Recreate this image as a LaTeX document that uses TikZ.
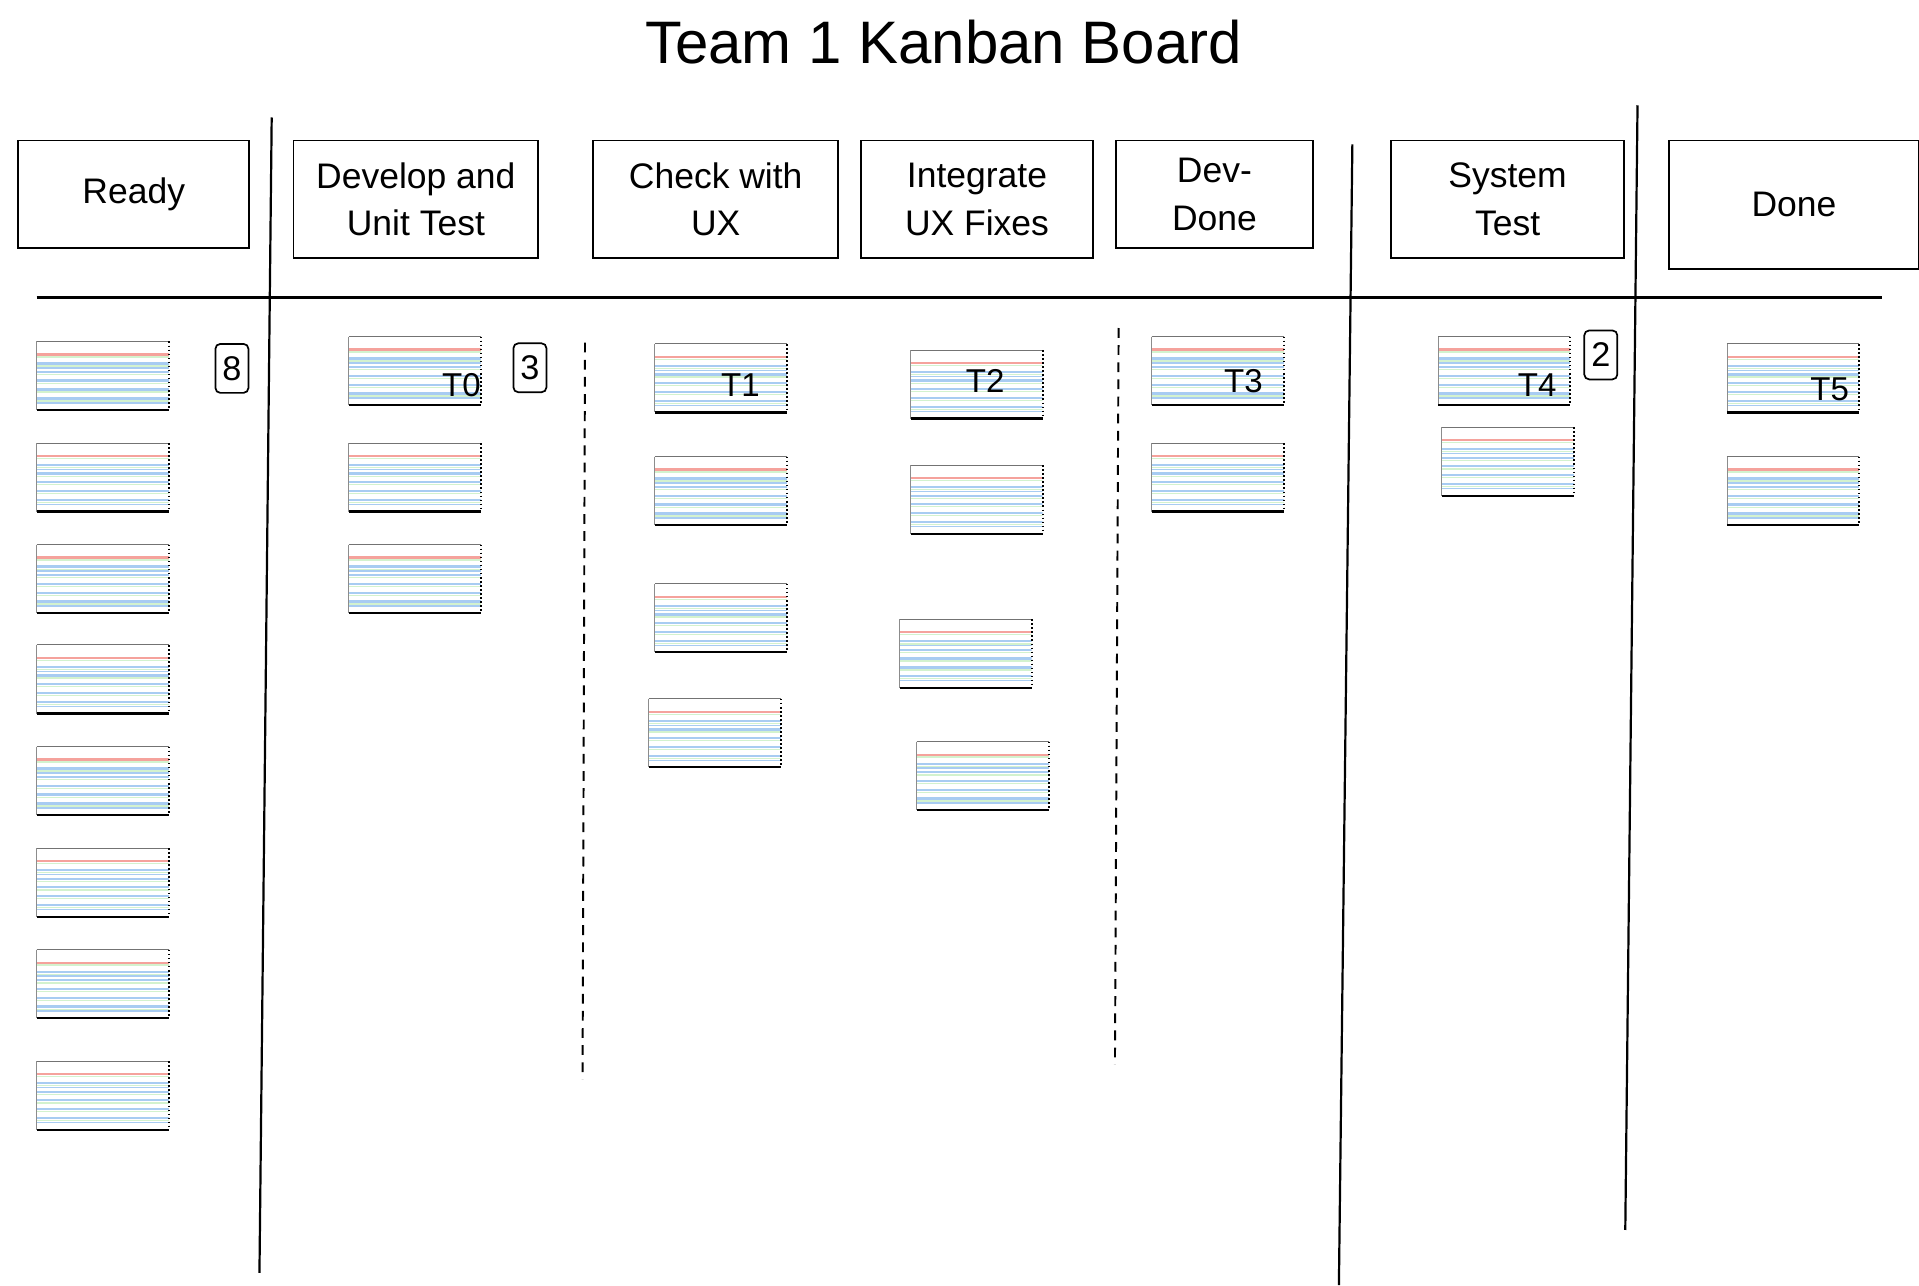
\documentclass[tikz,border=0pt]{standalone}
\usepackage{fontspec}
\setmainfont{Liberation Sans}
\definecolor{cardred}{HTML}{F5A29C}
\definecolor{cardblue}{HTML}{A8CCF2}
\definecolor{cardgreen}{HTML}{D3F2CE}
\tikzset{
  boardline/.style={line width=1.8pt, black},
  limitline/.style={line width=1.6pt, black, dash pattern=on 8pt off 6pt},
  hdr/.style={draw, line width=1.6pt, align=center, anchor=north west, inner sep=0pt,
    font=\fontsize{29}{39}\selectfont},
  wip/.style={draw, rounded corners=4pt, line width=1.4pt, minimum width=27pt,
    minimum height=40pt, inner sep=0pt, font=\fontsize{28}{28}\selectfont},
  cardlabel/.style={inner sep=0pt, font=\fontsize{27}{27}\selectfont},
  card/.style={rectangle, anchor=north west, minimum width=108pt, minimum height=56pt,
    inner sep=0pt, outer sep=0pt, fill=white,
    path picture={
      \coordinate (pp) at (path picture bounding box.north west);
      \draw[cardred, line width=1.8pt] ([yshift=-10.6pt]pp) -- ++(108pt,0);
      \draw[cardgreen, line width=1.1pt] ([yshift=-12.6pt]pp) -- ++(108pt,0);
      \foreach \b in {18,25,32,39.3,46.5}{
        \draw[cardblue, line width=1.9pt] ([yshift=-\b pt]pp) -- ++(108pt,0);
        \draw[cardgreen, line width=1.1pt] ([yshift=-\b pt-2.1pt]pp) -- ++(108pt,0);
      }
      \draw[cardblue, line width=1.1pt] ([yshift=-21.6pt]pp) -- ++(108pt,0);
      \draw[cardblue, line width=1.1pt] ([yshift=-50.2pt]pp) -- ++(108pt,0);
    }},
  cardtop/.style={black!55, line width=0.8pt},
  cardleft/.style={black!45, line width=0.6pt},
  cardbottom/.style={black, line width=1.8pt},
  cardright/.style={black, line width=1.3pt, dotted},
}
\newcommand{\kcard}[3]{%
  \node[card] (#1) at (#2,#3) {};
  \draw[cardtop] (#1.north west) -- (#1.north east);
  \draw[cardleft] (#1.north west) -- (#1.south west);
  \draw[cardbottom] (#1.south west) -- (#1.south east);
  \draw[cardright] (#1.north east) -- (#1.south east);
}
\begin{document}
\begin{tikzpicture}[x=1pt,y=-1pt]
\useasboundingbox[fill=white] (0,0) rectangle (1568,1050);

% title
\node[anchor=base, inner sep=0pt, font=\fontsize{49}{49}\selectfont] (title) at (771,52) {Team 1 Kanban Board};

% headers
\node[hdr, minimum width=189pt, minimum height=88pt] (hReady) at (14,114) {\raisebox{-2pt}{Ready}};
\node[hdr, minimum width=200pt, minimum height=96pt] (hDev) at (239,114) {Develop and\\Unit Test};
\node[hdr, minimum width=200pt, minimum height=96pt] (hCheck) at (484,114) {Check with\\UX};
\node[hdr, minimum width=189pt, minimum height=96pt] (hInt) at (703,114) {Integrate\\UX Fixes};
\node[hdr, minimum width=161pt, minimum height=88pt] (hDD) at (911,114) {Dev-\\Done};
\node[hdr, minimum width=190pt, minimum height=96pt] (hSys) at (1136,114) {System\\Test};
\node[hdr, minimum width=204pt, minimum height=105pt] (hDone) at (1363,114) {Done};

% board lines
\coordinate (hl1) at (30,243);
\coordinate (hl2) at (1538,243);
\draw[boardline] (hl1) -- (hl2);
\coordinate (v1a) at (222,96);   \coordinate (v1b) at (212,1040);
\coordinate (v2a) at (1105,118); \coordinate (v2b) at (1094,1050);
\coordinate (v3a) at (1338,86);  \coordinate (v3b) at (1328,1005);
\draw[boardline] (v1a) -- (v1b);
\draw[boardline] (v2a) -- (v2b);
\draw[boardline] (v3a) -- (v3b);
\coordinate (d1a) at (478,280); \coordinate (d1b) at (476,882);
\coordinate (d2a) at (914,268); \coordinate (d2b) at (911,870);
\draw[limitline] (d1a) -- (d1b);
\draw[limitline] (d2a) -- (d2b);

% WIP limits
\node[wip] (w8) at (189.5,301) {8};
\node[wip] (w3) at (433,300.5) {3};
\node[wip] (w2) at (1308,290) {2};

% Ready cards
\kcard{r1}{30}{279}
\kcard{r2}{30}{362}
\kcard{r3}{30}{445}
\kcard{r4}{30}{527}
\kcard{r5}{30}{610}
\kcard{r6}{30}{693}
\kcard{r7}{30}{776}
\kcard{r8}{30}{867}

% Develop
\kcard{d1}{285}{275}
\kcard{d2}{285}{362}
\kcard{d3}{285}{445}
\node[cardlabel] (t0) at (377,315) {T0};

% Check with UX
\kcard{c1}{535}{281}
\kcard{c2}{535}{373}
\kcard{c3}{535}{477}
\kcard{c4}{530}{571}
\node[cardlabel] (t1) at (605,315) {T1};

% Integrate
\kcard{i1}{744}{286}
\kcard{i2}{744}{380}
\kcard{i3}{735}{506}
\kcard{i4}{749}{606}
\node[cardlabel] (t2) at (805,311) {T2};

% Dev-Done
\kcard{e1}{941}{275}
\kcard{e2}{941}{362}
\node[cardlabel] (t3) at (1016,311) {T3};

% System Test
\kcard{s1}{1175}{275}
\kcard{s2}{1178}{349}
\node[cardlabel] (t4) at (1256,315) {T4};

% Done
\kcard{n1}{1411}{281}
\kcard{n2}{1411}{373}
\node[cardlabel] (t5) at (1495,318) {T5};
\end{tikzpicture}
\end{document}
